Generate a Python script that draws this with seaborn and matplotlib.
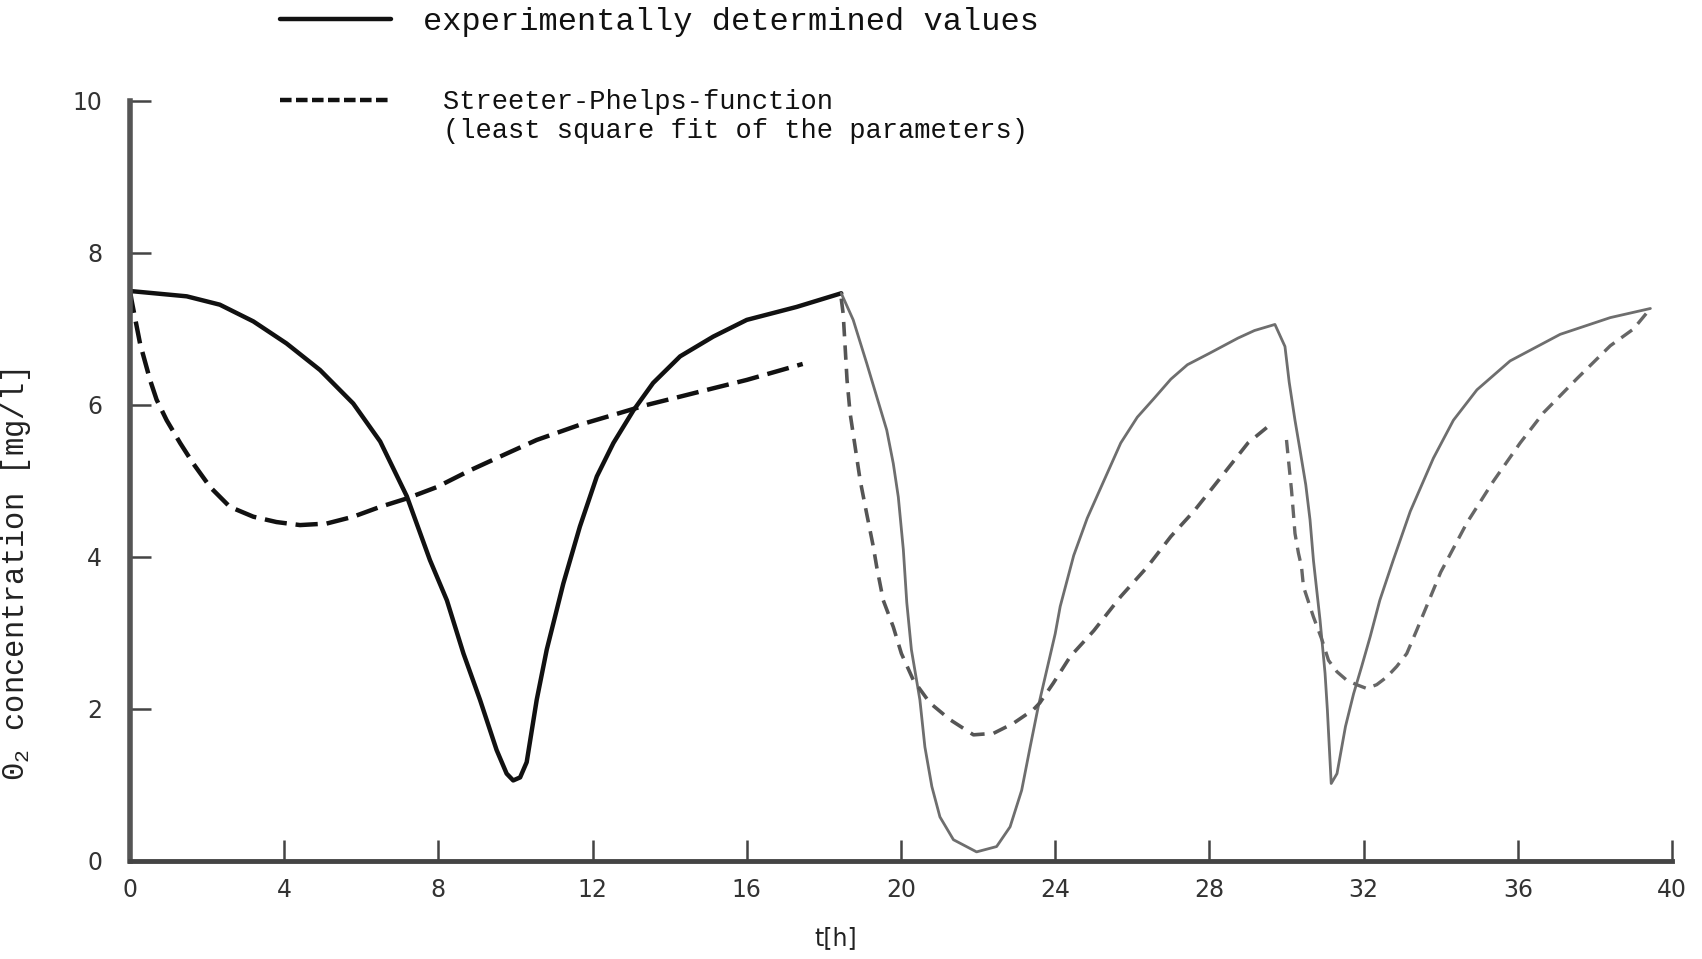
import matplotlib
matplotlib.use("Agg")
import matplotlib.pyplot as plt
from matplotlib import font_manager
import pandas as pd
import seaborn as sns
from matplotlib.lines import Line2D

# ---- data -------------------------------------------------------------
# experimentally determined values (solid line), first period 0 - 18.45 h
exp_t_a = [0, 1.47, 2.33, 3.2, 4.06, 4.93, 5.79, 6.49, 7.18, 7.78, 8.22, 8.65, 9.08,
           9.51, 9.77, 9.94, 10.12, 10.29, 10.55, 10.81, 11.24, 11.67, 12.11, 12.54,
           13.06, 13.57, 14.27, 15.13, 16.0, 17.29, 18.45]
exp_o2_a = [7.5, 7.43, 7.32, 7.1, 6.81, 6.46, 6.02, 5.52, 4.8, 3.96, 3.43, 2.73, 2.12,
            1.46, 1.15, 1.06, 1.1, 1.3, 2.12, 2.78, 3.65, 4.4, 5.06, 5.5,
            5.93, 6.29, 6.64, 6.9, 7.12, 7.29, 7.47]
# experimentally determined values, 18.45 h - 39.44 h
exp_t_b = [18.45, 18.76, 19.11, 19.37, 19.63, 19.8, 19.93, 20.06, 20.15, 20.27, 20.49,
           20.62, 20.8, 21.01, 21.36, 21.96, 22.48, 22.83, 23.13, 23.35, 23.56, 23.78,
           24.0, 24.13, 24.48, 24.83, 25.26, 25.7, 26.13, 26.57, 27.0, 27.43, 28.0,
           28.74, 29.17, 29.7,
           29.96, 30.07, 30.22, 30.35, 30.5, 30.61, 30.7, 30.87, 31.0, 31.06, 31.11,
           31.16, 31.31, 31.53, 31.74, 31.95, 32.17, 32.42, 32.77, 33.21, 33.81, 34.33,
           34.94, 35.8, 37.1, 38.4, 39.44]
exp_o2_b = [7.47, 7.12, 6.55, 6.11, 5.67, 5.23, 4.79, 4.1, 3.4, 2.78, 2.12,
            1.5, 0.98, 0.58, 0.28, 0.12, 0.19, 0.45, 0.93, 1.5, 2.03, 2.51,
            2.99, 3.35, 4.02, 4.51, 5.0, 5.5, 5.84, 6.09, 6.34, 6.53, 6.68,
            6.88, 6.98, 7.06,
            6.77, 6.3, 5.8, 5.41, 4.95, 4.49, 3.95, 3.17, 2.47, 1.99, 1.5,
            1.02, 1.15, 1.77, 2.2, 2.56, 2.95, 3.43, 3.96, 4.6, 5.3, 5.8,
            6.2, 6.58, 6.93, 7.15, 7.27]
# Streeter-Phelps-function (dashed line), three fitted periods
sp_t_a = [0, 0.04, 0.26, 0.52, 0.69, 0.95, 1.3, 1.64, 2.08, 2.59, 3.2, 3.8, 4.41,
          5.1, 5.79, 6.49, 7.18, 7.96, 8.82, 9.68, 10.55, 11.67, 12.54, 13.4, 14.27,
          15.13, 16.0, 17.45]
sp_o2_a = [7.5, 7.38, 6.81, 6.33, 6.07, 5.8, 5.5, 5.23, 4.92, 4.66, 4.53, 4.46, 4.42,
           4.44, 4.53, 4.66, 4.77, 4.92, 5.14, 5.34, 5.54, 5.74, 5.87, 6.0, 6.11,
           6.22, 6.33, 6.54]
sp_t_b = [18.45, 18.5, 18.55, 18.6, 18.68, 18.81, 18.94, 19.11, 19.28, 19.37, 19.54,
          19.8, 20.01, 20.32, 20.75, 21.27, 21.88, 22.4, 22.91, 23.43, 23.6, 23.95,
          24.39, 25.0, 25.7, 26.39, 27.0, 27.61, 28.3, 29.0, 29.6]
sp_o2_b = [7.4, 7.2, 6.77, 6.33, 5.89, 5.45, 5.01, 4.57, 4.14, 3.87, 3.43,
           3.08, 2.73, 2.38, 2.08, 1.86, 1.66, 1.68, 1.81, 1.99, 2.08, 2.34,
           2.69, 3.03, 3.48, 3.87, 4.27, 4.61, 5.05, 5.5, 5.75]
sp_t_c = [30.0, 30.05, 30.13, 30.18, 30.22, 30.31, 30.39, 30.44, 30.7, 30.92, 31.09,
          31.31, 31.56, 31.82, 32.08, 32.34, 32.6, 32.86, 33.12, 33.38, 34.0, 34.68,
          35.37, 36.06, 36.67, 37.54, 38.4, 39.0, 39.44]
sp_o2_c = [5.54, 5.28, 4.88, 4.57, 4.31, 4.05, 3.87, 3.61, 3.21, 2.91, 2.64,
           2.49, 2.38, 2.32, 2.27, 2.32, 2.42, 2.56, 2.73, 3.04, 3.8, 4.45,
           5.0, 5.5, 5.9, 6.35, 6.78, 7.0, 7.27]

x_ticks = [0, 4, 8, 12, 16, 20, 24, 28, 32, 36, 40]
y_ticks = [0, 2, 4, 6, 8, 10]
legend_label_exp = "experimentally determined values"
legend_label_sp = "Streeter-Phelps-function"
legend_label_sp2 = "(least square fit of the parameters)"

# ---- tidy frame --------------------------------------------------------
frames = []
for name, t, v in [("exp_a", exp_t_a, exp_o2_a), ("exp_b", exp_t_b, exp_o2_b),
                   ("sp_a", sp_t_a, sp_o2_a), ("sp_b", sp_t_b, sp_o2_b),
                   ("sp_c", sp_t_c, sp_o2_c)]:
    frames.append(pd.DataFrame({"t": t, "o2": v, "seg": name}))
df = pd.concat(frames, ignore_index=True)

# ---- style ------------------------------------------------------------
sns.set_style("ticks")
plt.rcParams["font.family"] = ["Liberation Mono", "DejaVu Sans"]
plt.rcParams["mathtext.default"] = "regular"

installed = {f.name for f in font_manager.fontManager.ttflist}
if "Liberation Sans Narrow" in installed:
    tick_font, tick_size = "Liberation Sans Narrow", 21
else:
    tick_font, tick_size = "DejaVu Sans", 17

fig = plt.figure(figsize=(17.02, 9.59), dpi=100)
ax = fig.add_axes([130 / 1702, 1 - 861 / 959, (1672 - 130) / 1702, (861 - 101) / 959])

styles = {
    "exp_a": dict(color="#111111", lw=3.2, ls="-"),
    "exp_b": dict(color="#6e6e6e", lw=2.0, ls="-"),
    "sp_a": dict(color="#111111", lw=3.2, ls=(0, (5, 2))),
    "sp_b": dict(color="#555555", lw=2.6, ls=(0, (4, 2.5))),
    "sp_c": dict(color="#666666", lw=2.4, ls=(0, (4, 2.5))),
}
for seg, st in styles.items():
    sub = df[df["seg"] == seg]
    sns.lineplot(data=sub, x="t", y="o2", ax=ax, sort=False, estimator=None,
                 color=st["color"], linewidth=st["lw"], linestyle=st["ls"],
                 legend=False)

ax.set_xlim(0, 40)
ax.set_ylim(0, 10)
ax.set_xticks(x_ticks)
ax.set_yticks(y_ticks)
ax.set_xticklabels([str(v) for v in x_ticks], fontfamily=tick_font, fontsize=tick_size,
                   color="#333333")
ax.set_yticklabels([str(v) for v in y_ticks], fontfamily=tick_font, fontsize=tick_size,
                   color="#333333")
ax.tick_params(axis="both", direction="in", length=15, width=1.8, color="#444444")
ax.tick_params(axis="x", pad=12)
ax.tick_params(axis="y", pad=20)
for side in ["top", "right"]:
    ax.spines[side].set_visible(False)
ax.spines["left"].set_linewidth(4)
ax.spines["left"].set_color("#555555")
ax.spines["bottom"].set_linewidth(3.5)
ax.spines["bottom"].set_color("#444444")

ax.set_xlabel("t[h]", fontsize=tick_size, fontfamily=tick_font, color="#222222")
ax.xaxis.set_label_coords(18.3 / 40, -0.086)
ax.set_ylabel("0$_2$ concentration [mg/l]", fontsize=22, color="#222222")
ax.yaxis.set_label_coords(-0.063, 0.376)

# ---- legend (two separate legends, positioned as in the reference) -----
h1 = Line2D([], [], color="#111111", lw=3.2, ls="-")
h2 = Line2D([], [], color="#111111", lw=3.2, ls=(0, (2.6, 1)))
h_blank = Line2D([], [], color="none", lw=0)
leg1 = fig.legend([h1], [legend_label_exp], loc="center left",
                  bbox_to_anchor=(280 / 1702, 1 - 22 / 959), frameon=False,
                  fontsize=23, handlelength=3.48, handletextpad=1.0, borderpad=0,
                  borderaxespad=0)
leg2 = fig.legend([h2, h_blank], [legend_label_sp, legend_label_sp2], loc="upper left",
                  bbox_to_anchor=(280 / 1702, 1 - 89 / 959), frameon=False,
                  fontsize=19.5, handlelength=4.1, handletextpad=1.92, borderpad=0,
                  borderaxespad=0, labelspacing=0.12)
for leg in (leg1, leg2):
    for txt in leg.get_texts():
        txt.set_color("#111111")

fig.savefig("out.png", dpi=100, facecolor="white")
